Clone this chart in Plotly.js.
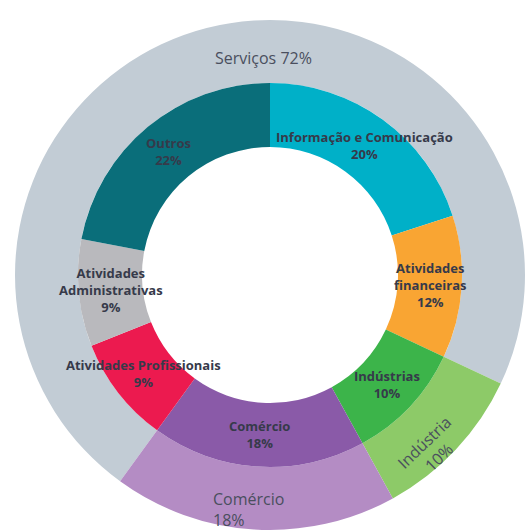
<!DOCTYPE html>
<html>
<head>
<meta charset="utf-8">
<script src="https://cdn.plot.ly/plotly-3.0.1.min.js"></script>
<style>
  html, body { margin: 0; padding: 0; background: #ffffff; }
  #chart { width: 527px; height: 531px; }
</style>
</head>
<body>
<div id="chart"></div>
<script>
// *********************************************************************************************
// DATA

const SECTORS = ["Serviços", "Indústria", "Comércio"]
const SECTOR_PCT = [72, 10, 18]
const SECTOR_COLORS = ["#c2ccd5", "#8dca68", "#b48cc4"]

const BRANCHES = [
    "Informação e Comunicação",
    "Atividades financeiras",
    "Indústrias",
    "Comércio",
    "Atividades Profissionais",
    "Atividades Administrativas",
    "Outros"
]
const BRANCH_PCT = [20, 12, 10, 18, 9, 9, 22]
const BRANCH_COLORS = ["#00b0c8", "#f9a533", "#3cb44a", "#8a5aa8", "#ec1a4f", "#b9b9bd", "#0a6e7a"]
// how each label breaks into lines
const BRANCH_TEXT = [
    "Informação e Comunicação",
    "Atividades<br>financeiras",
    "Indústrias",
    "Comércio",
    "Atividades Profissionais",
    "Atividades<br>Administrativas",
    "Outros"
]


// *********************************************************************************************
// GEOMETRY (pixels)

const W = 527, H = 531
const CX = 270, CY = 275          // centre, from top-left
const R_OUT = 255, R_MID = 192, R_HOLE = 128

const px2paper = (x, y) => [x / W, (H - y) / H]

// outer ring starts where "Comércio" sector starts so "Serviços" stays in one piece
const branchStart = BRANCH_PCT.slice(0, 4).reduce((a, b) => a + b, 0)   // 60
const outerRotation = branchStart / 100 * 360                           // 216


// *********************************************************************************************
// TRACES

const outer = {
    type: 'pie',
    labels: SECTORS,
    values: SECTOR_PCT,
    sort: false,
    direction: 'clockwise',
    rotation: outerRotation,
    hole: R_MID / R_OUT,
    marker: { colors: SECTOR_COLORS, line: { width: 0 } },
    textinfo: 'none',
    hoverinfo: 'label+percent',
    domain: {
        x: [(CX - R_OUT) / W, (CX + R_OUT) / W],
        y: [(H - CY - R_OUT) / H, (H - CY + R_OUT) / H]
    },
    showlegend: false
};

const inner = {
    type: 'pie',
    labels: BRANCHES,
    values: BRANCH_PCT,
    sort: false,
    direction: 'clockwise',
    rotation: 0,
    hole: R_HOLE / R_MID,
    marker: { colors: BRANCH_COLORS, line: { width: 0 } },
    textinfo: 'none',
    hoverinfo: 'label+percent',
    domain: {
        x: [(CX - R_MID) / W, (CX + R_MID) / W],
        y: [(H - CY - R_MID) / H, (H - CY + R_MID) / H]
    },
    showlegend: false
};


// *********************************************************************************************
// LABELS (placed at each slice's middle angle)

const annotations = []
const LABEL_COLOR = '#363a4a'

const label = (x, y, text, extra) => Object.assign({
    xref: 'paper', yref: 'paper', x: x, y: y,
    xanchor: 'center', yanchor: 'middle',
    text: text, showarrow: false
}, extra)

let acc = 0
BRANCH_PCT.forEach((v, i) => {
    const mid = (acc + v / 2) / 100 * 2 * Math.PI
    acc += v
    const r = (R_MID + R_HOLE) / 2
    const [x, y] = px2paper(CX + r * Math.sin(mid), CY - r * Math.cos(mid))
    annotations.push(label(x, y, '<b>' + BRANCH_TEXT[i] + '<br>' + v + '%</b>', {
        font: { family: 'Open Sans', size: 13, color: LABEL_COLOR },
        align: 'center'
    }))
})

// outer ring labels
const outerFont = { family: 'Open Sans', size: 16, color: '#4a4f5e' }
{
    const [x, y] = px2paper(CX - 7, CY - 217)
    annotations.push(label(x, y, SECTORS[0] + ' ' + SECTOR_PCT[0] + '%', { font: outerFont }))
}
{
    const mid = (branchStart - SECTOR_PCT[2] - SECTOR_PCT[1] / 2) / 100 * 2 * Math.PI
    const r = 240
    const [x, y] = px2paper(CX + r * Math.sin(mid) - 13, CY - r * Math.cos(mid) + 10)
    annotations.push(label(x, y, SECTORS[1] + '<br>' + SECTOR_PCT[1] + '%', {
        textangle: -44, font: outerFont, align: 'center' }))
}
{
    const mid = (branchStart - SECTOR_PCT[2] / 2) / 100 * 2 * Math.PI
    const r = 232
    const [x, y] = px2paper(CX + r * Math.sin(mid) - 44, CY - r * Math.cos(mid) + 3)
    annotations.push(label(x, y, SECTORS[2] + '<br>' + SECTOR_PCT[2] + '%', {
        xanchor: 'left', font: outerFont, align: 'left' }))
}


// *********************************************************************************************
// LAYOUT / CONFIG

const layout = {
    width: W,
    height: H,
    margin: { t: 0, r: 0, b: 0, l: 0 },
    paper_bgcolor: '#ffffff',
    showlegend: false,
    annotations: annotations
}

const config = { displaylogo: false, displayModeBar: false, staticPlot: true }

Plotly.newPlot('chart', [outer, inner], layout, config);
</script>
</body>
</html>
